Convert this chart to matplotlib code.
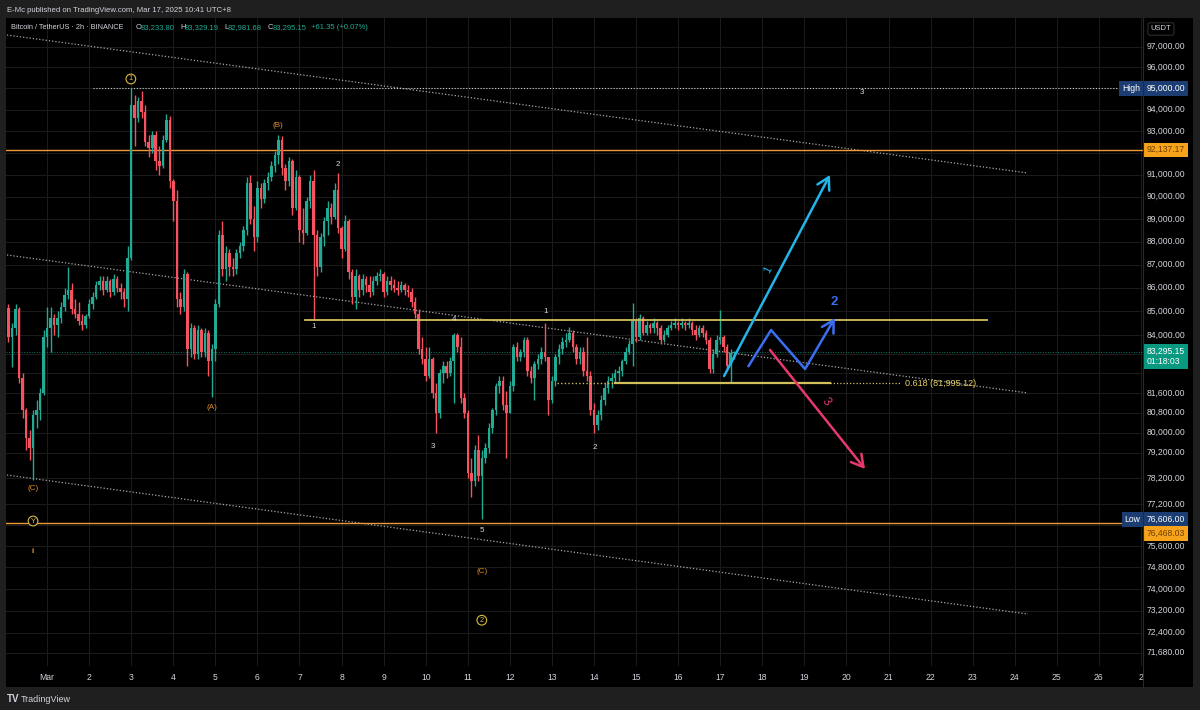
import numpy as np
import pandas as pd
import matplotlib
matplotlib.use('Agg')
import matplotlib.pyplot as plt

plt.rcParams['font.family'] = ['Liberation Sans', 'DejaVu Sans']

# BTC/USDT 2h bars (UTC+8), first bar Feb 28 02:00, last bar Mar 17 08:00
first_open = 85150
closes = [83900, 84300, 85100, 82200, 80900, 79800, 79400, 80700, 80900, 81600,
          83900, 84300, 84700, 84400, 84700, 85200, 85700, 85900, 85100, 84900,
          84600, 84400, 84800, 85300, 85600, 86100, 86300, 85900, 86300, 85800,
          86400, 86000, 85800, 85500, 87300, 94200, 93600, 94400, 93900, 92500,
          92200, 92800, 91600, 91400, 92600, 93500, 90700, 89800, 85500, 85200,
          86600, 83400, 84300, 83200, 84200, 83300, 84100, 82900, 83400, 85300,
          88300, 86800, 87500, 86900, 86800, 87500, 87800, 88500, 90600, 89000,
          88200, 90400, 89900, 90600, 90900, 91400, 91900, 92600, 91300, 90700,
          91600, 89500, 90900, 88500, 88400, 89800, 90700, 88300, 86900, 88200,
          88900, 89500, 89100, 90300, 88600, 87700, 88900, 86700, 85600, 86500,
          85900, 86400, 86100, 85800, 86300, 86500, 86600, 85800, 86300, 86100,
          86000, 85900, 86100, 85900, 85800, 85400, 84900, 83400, 83000, 82300,
          83000, 81600, 80800, 82400, 82700, 82400, 82900, 84000, 83500, 81400,
          80800, 78400, 78100, 79300, 78300, 79000, 79400, 80200, 80900, 81900,
          82100, 81100, 80800, 81900, 83500, 83100, 83300, 83800, 82500, 82200,
          82800, 83000, 83300, 83100, 81300, 82100, 83100, 83400, 83700, 83800,
          84100, 83500, 83000, 83300, 82500, 82300, 80900, 80300, 80700, 81300,
          81800, 82100, 82200, 82400, 82500, 82900, 83300, 83600, 84600, 83900,
          84700, 84100, 84400, 84300, 84500, 84300, 83800, 84000, 84300, 84400,
          84500, 84400, 84500, 84400, 84500, 84200, 84000, 84300, 84100, 83800,
          82600, 83200, 83800, 83900, 83500, 82700, 83233.80, 83295.15]
highs = [85300, 84500, 85300, 85200, 82400, 81000, 80100, 80900, 81300, 81800,
         84200, 85200, 85200, 84900, 85000, 85400, 86000, 86900, 86200, 85500,
         85400, 84900, 84900, 85500, 85800, 86300, 86500, 86500, 86500, 86400,
         86600, 86500, 86200, 86000, 87800, 95000, 94700, 94600, 94900, 94200,
         92800, 93000, 93000, 92300, 92800, 93800, 93700, 90800, 90300, 85800,
         86800, 86700, 84500, 84400, 84400, 84300, 84300, 84200, 83600, 85500,
         88500, 88900, 87800, 87700, 87300, 87700, 88000, 88700, 90900, 91000,
         89600, 90700, 90600, 90800, 91100, 91600, 92100, 92800, 92750, 91500,
         91800, 91700, 91200, 91000, 89500, 90000, 91000, 91200, 88500, 88400,
         89100, 89800, 89700, 90600, 91060, 88700, 89200, 89000, 86800, 86800,
         86600, 86600, 86500, 86500, 86500, 86700, 86800, 86700, 86500, 86500,
         86400, 86300, 86300, 86200, 86100, 86000, 85600, 85100, 83900, 83500,
         83500, 83100, 82000, 82600, 82900, 82900, 83100, 84100, 84100, 83900,
         81600, 80900, 79000, 79500, 79900, 79300, 79600, 80400, 81000, 82000,
         82300, 82300, 81700, 82100, 83600, 83700, 83400, 83900, 83900, 82700,
         82900, 83200, 83500, 84500, 83100, 82300, 83200, 83600, 83900, 84100,
         84350, 84200, 83600, 83500, 83500, 83900, 82500, 81200, 80900, 81500,
         82000, 82300, 82400, 82600, 82700, 83000, 83500, 83800, 85340, 84700,
         84900, 84800, 84600, 84500, 84700, 84600, 84400, 84200, 84400, 84600,
         84700, 84600, 84700, 84600, 84700, 84600, 84400, 84400, 84400, 84200,
         83900, 83400, 84000, 85050, 84000, 83600, 83400, 83329.19]
lows = [83700, 82650, 84000, 82000, 80600, 79300, 78900, 78130, 80200, 80500,
        81500, 83500, 83300, 84000, 83900, 84500, 85000, 85500, 84900, 84700,
        84400, 84200, 84300, 84700, 85100, 85500, 85900, 85700, 85800, 85600,
        85700, 85800, 85500, 85200, 85000, 87200, 92300, 93400, 93600, 92300,
        91800, 92000, 91200, 91000, 91300, 92500, 90400, 88900, 85200, 84900,
        85000, 82700, 83100, 83000, 83000, 83100, 83100, 82300, 81450, 82900,
        85200, 86500, 86300, 86500, 86500, 86600, 87300, 87600, 88300, 88800,
        87600, 88000, 89500, 89700, 90300, 90700, 91100, 91500, 91000, 90300,
        90500, 89200, 89400, 88000, 87900, 88300, 89500, 84630, 86500, 86700,
        87800, 88300, 88800, 89000, 88400, 87300, 87600, 86400, 85300, 85100,
        85600, 85700, 85800, 85600, 85700, 86100, 86300, 85600, 85700, 85900,
        85800, 85700, 85800, 85700, 85600, 85200, 84700, 83200, 82800, 82100,
        82200, 81400, 79970, 80600, 82000, 82200, 82300, 81200, 83300, 81200,
        80600, 78200, 77480, 77900, 78100, 76606, 78800, 79200, 80000, 80700,
        81600, 80900, 79000, 80800, 81700, 82900, 82900, 83100, 82300, 82000,
        81300, 82600, 82800, 82900, 80700, 81200, 81900, 82800, 83200, 83500,
        83700, 83300, 82800, 82800, 82300, 82100, 80700, 79970, 80100, 80500,
        81100, 81600, 81800, 82000, 82100, 82300, 82800, 83200, 82700, 83700,
        83800, 84000, 84000, 84100, 84100, 84000, 83600, 83700, 83900, 84200,
        84300, 84200, 84300, 84200, 84300, 84000, 83800, 83900, 83900, 83600,
        82400, 82400, 83100, 83600, 83300, 82500, 82000, 82981.68]

# right price scale
tick_prices = [97000, 96000, 94000, 93000, 91000, 90000, 89000, 88000, 87000,
               86000, 85000, 84000, 81600, 80800, 80000, 79200, 78200, 77200,
               75600, 74800, 74000, 73200, 72400, 71680]
hidden_grid = [95000, 92000, 83200, 82400, 76400]
last_price = 83295.15
high_price = 95000.00
low_price = 76606.00
orange_levels = [92137.17, 76468.03]
wave4_level = 84630
fib_level = 81995.12

# drawings, x in 2h-bar units from the first bar
chan_x = [-0.43, 290.8]
chan_top = [97568, 91072]
chan_mid = [87420, 81600]
chan_bot = [78327, 73073]
high_line_x0 = 24.1
wave4_x = [84.6, 279.1]
fib_dotted_a = [156.4, 173.0]
fib_solid = [173.0, 234.3]
fib_dotted_b = [234.3, 254.3]
path1_x, path1_y = [204.1, 234.3], [82295, 90982]
path2_x, path2_y = [210.9, 217.5, 227.2, 235.7], [82665, 84207, 82583, 84712]
path3_x, path3_y = [217.2, 244.3], [83371, 78562]

wave_text = ['1', '(B)', '2', '1', '(A)', '(C)', 'Y', 'ii', '4', '1', '3', '5', '2', '(C)', '2', '3']
wave_x = [34.9, 76.9, 94.0, 87.1, 58.0, 7.0, 7.0, 7.0, 127.1, 153.3, 121.1, 135.0, 167.3, 135.0, 135.0, 243.4]
wave_y = [95450, 93281, 91438, 84372, 81028, 77817, 76548, 75378, 84650, 85007, 79430, 76169, 79397, 74628, 72849, 94800]
wave_kind = ['circ', 'org', 'w', 'w', 'org', 'org', 'circ', 'org', 'w', 'w', 'w', 'w', 'w', 'org', 'circ', 'w']

UP, DOWN = '#22ab94', '#f7525f'
GRID = '#1c1c1c'
TXT = '#d1d4dc'
ORANGE = '#eb9a36'
YELLOW = '#d2bf5c'

W, H = 1200, 710
fig = plt.figure(figsize=(12, 7.1), dpi=100, facecolor='#1f1f1f')

def fx(px):
    return px / W

def fy(py):
    return 1 - py / H

# black chart panel
bg = fig.add_axes([fx(6), fy(687), fx(1193 - 6), (687 - 18) / H])
bg.set_facecolor('black')
bg.set_xticks([]); bg.set_yticks([])
for s in bg.spines.values():
    s.set_visible(False)

ax = fig.add_axes([fx(6), fy(666), fx(1143 - 6), (666 - 18) / H])
ax.set_facecolor('black')
ax.set_yscale('log')
ax.set_xlim(-0.713, 323.59)
ax.set_ylim(71203, 98400)
ax.set_xticks([]); ax.set_yticks([])
ax.yaxis.set_minor_locator(matplotlib.ticker.NullLocator())
for s in ax.spines.values():
    s.set_visible(False)

# time positions
t0 = pd.Timestamp('2025-02-28 02:00')
days = pd.date_range('2025-03-01', '2025-03-27', freq='D')
day_pos = (days - t0) / pd.Timedelta(hours=2)

for p in tick_prices + hidden_grid:
    ax.axhline(p, color=GRID, lw=0.7, zorder=0)
for d in day_pos:
    ax.axvline(d, color=GRID, lw=0.7, zorder=0)

# candles
c = np.array(closes, dtype=float)
o = np.concatenate([[first_open], c[:-1]])
hi = np.array(highs, dtype=float)
lo = np.array(lows, dtype=float)
x = np.arange(len(c))
col = np.where(c >= o, UP, DOWN)
ax.vlines(x, lo, hi, colors=col, lw=1.0, zorder=3)
body_lo = np.minimum(o, c)
body_h = np.maximum(np.abs(c - o), body_lo * 0.0006)
ax.bar(x, body_h, bottom=body_lo, width=0.72, color=col, lw=0, zorder=4)

# channel + levels
dots = (0, (1, 1.6))
for ys in (chan_top, chan_mid, chan_bot):
    ax.plot(chan_x, ys, color='#a8a8a8', lw=0.9, ls=dots, zorder=2)
ax.plot([high_line_x0, 323.6], [high_price] * 2, color='#cfcfcf', lw=0.8, ls=dots, zorder=2)
for lvl in orange_levels:
    ax.axhline(lvl, color=ORANGE, lw=1.0, zorder=2)
ax.axhline(last_price, color='#089981', lw=0.7, ls=dots, alpha=0.8, zorder=2)
ax.plot(wave4_x, [wave4_level] * 2, color=YELLOW, lw=1.3, zorder=5)
ax.plot(fib_dotted_a, [fib_level] * 2, color=YELLOW, lw=1.0, ls=dots, zorder=5)
ax.plot(fib_solid, [fib_level] * 2, color=YELLOW, lw=1.6, zorder=5)
ax.plot(fib_dotted_b, [fib_level] * 2, color=YELLOW, lw=0.9, ls=dots, zorder=5)
ax.text(255.7, fib_level, '0.618 (81,995.12)', color='#e8d36a', fontsize=6.5,
        va='center', ha='left', zorder=6)

# scenario paths
CYAN, BLUE, PINK = '#23b5e8', '#3c6ef2', '#e8386d'

def arrow(xs, ys, color):
    if len(xs) > 2:
        ax.plot(xs[:-1], ys[:-1], color=color, lw=1.8, zorder=7, solid_capstyle='butt')
    ax.annotate('', xy=(xs[-1], ys[-1]), xytext=(xs[-2], ys[-2]), zorder=7,
                arrowprops=dict(arrowstyle='->,head_length=0.7,head_width=0.4',
                                color=color, lw=1.8, shrinkA=0, shrinkB=0,
                                mutation_scale=12))

arrow(path1_x, path1_y, CYAN)
arrow(path2_x, path2_y, BLUE)
arrow(path3_x, path3_y, PINK)
ax.text(216.6, 86767, '1', color=CYAN, fontsize=8, rotation=62, ha='center', va='center', zorder=8)
ax.text(235.5, 85392, '2', color=BLUE, fontsize=9.5, fontweight='bold', ha='center', va='center', zorder=8)
ax.text(233.2, 81234, '3', color=PINK, fontsize=8.5, rotation=-52, ha='center', va='center', zorder=8)

# elliott wave labels
for t, wx, wy, k in zip(wave_text, wave_x, wave_y, wave_kind):
    if k == 'circ':
        ax.text(wx, wy, t, color='#d8bb45', fontsize=5.4, ha='center', va='center', zorder=8,
                bbox=dict(boxstyle='circle,pad=0.18', fc='black', ec='#d8bb45', lw=0.8))
    elif k == 'org':
        ax.text(wx, wy, t, color='#e08e2b', fontsize=5.8, ha='center', va='center', zorder=8)
    else:
        ax.text(wx, wy, t, color='#d8d8d8', fontsize=5.8, ha='center', va='center', zorder=8)

# price scale labels
ytr = ax.get_yaxis_transform()
lab_x = (1147 - 6) / (1143 - 6)
for p in tick_prices:
    ax.text(lab_x, p, f'{p:,.2f}', transform=ytr, color=TXT, fontsize=6.2,
            ha='left', va='center', clip_on=False)

def tag(price, text, fc, tc, dy=0, xpos=lab_x, ha='left'):
    ax.annotate(text, xy=(xpos, price), xycoords=ytr, xytext=(0, dy),
                textcoords='offset points', color=tc, fontsize=6.2, ha=ha,
                va='center', annotation_clip=False, zorder=10,
                bbox=dict(boxstyle='square,pad=0.3', fc=fc, ec='none'))

hl_x = (1140 - 6) / (1143 - 6)
tag(high_price, f'{high_price:,.2f}', '#1c3d72', 'white')
tag(high_price, 'High', '#1c3d72', 'white', xpos=hl_x, ha='right')
tag(orange_levels[0], f'{orange_levels[0]:,.2f}', '#f7a21b', '#6b3f00')
tag(last_price, f'{last_price:,.2f}\n01:18:03', '#089981', 'white', dy=-3.5)
tag(low_price, f'{low_price:,.2f}', '#1c3d72', 'white')
tag(low_price, 'Low', '#1c3d72', 'white', xpos=hl_x, ha='right')
tag(orange_levels[1], f'{orange_levels[1]:,.2f}', '#f7a21b', '#6b3f00', dy=-7.5)

# time scale labels
for d, pos in zip(days, day_pos):
    lab = 'Mar' if d.day == 1 else str(d.day)
    if d.day == 27:
        lab = '2'
    ax.text(pos, -0.017, lab, transform=ax.get_xaxis_transform(), color=TXT,
            fontsize=6.2, ha='center', va='center', clip_on=False)

# axis separator
fig.add_artist(plt.Line2D([fx(1143)] * 2, [fy(18), fy(687)], color='#2a2a2a', lw=0.8))

# headers
fig.text(fx(7), fy(10), 'E-Mc published on TradingView.com, Mar 17, 2025 10:41 UTC+8',
         color=TXT, fontsize=5.6, va='center')
sym_y = fy(27.5)
fig.text(fx(11), sym_y, 'Bitcoin / TetherUS · 2h · BINANCE', color=TXT, fontsize=5.3, va='center')
ohlc = [(136, 'O', TXT), (140.5, '83,233.80', UP), (180, 'H', TXT), (184.5, '83,329.19', UP),
        (224, 'L', TXT), (228, '82,981.68', UP), (268, 'C', TXT), (273, '83,295.15', UP),
        (311, '+61.35 (+0.07%)', UP)]
for px, t, cl in ohlc:
    fig.text(fx(px), sym_y, t, color=cl, fontsize=5.5, va='center')
fig.text(fx(1161), fy(29), 'USDT', color=TXT, fontsize=5.5, ha='center', va='center',
         bbox=dict(boxstyle='round,pad=0.35,rounding_size=0.2', fc='black', ec='#3a3a3a', lw=0.6))

fig.text(fx(7), fy(699), 'TV', color=TXT, fontsize=7, fontweight='bold', va='center')
fig.text(fx(21), fy(699), 'TradingView', color=TXT, fontsize=6.5, va='center')

fig.savefig('out.png', dpi=100, facecolor=fig.get_facecolor())
